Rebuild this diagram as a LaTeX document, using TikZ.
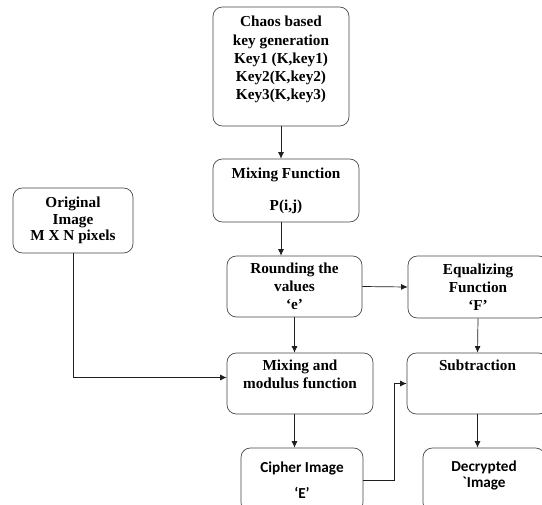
\documentclass[tikz,border=0pt]{standalone}
\usepackage{fontspec}
\setmainfont{Liberation Serif}
\newfontfamily\calfont{Carlito}
\usetikzlibrary{arrows.meta, positioning, calc}
\definecolor{edge}{RGB}{70, 70, 70}
\definecolor{wire}{RGB}{30, 30, 30}

\begin{document}
\begin{tikzpicture}[x=0.03cm, y=-0.03cm,
    box/.style={rectangle, rounded corners=8pt, draw=edge, line width=0.6pt,
                align=center, inner sep=0pt,
                font=\bfseries\fontsize{13}{15.5}\selectfont},
    sbox/.style={box, font=\calfont\bfseries\fontsize{13}{15.5}\selectfont},
    arr/.style={-{Latex[length=5.5pt, width=5pt]}, draw=wire, line width=0.6pt}]

    \clip (0,0) rectangle (542,504);
    \fill[white] (0,0) rectangle (542,504);

    % Key side
    \node[box, minimum width=4.08cm, minimum height=3.57cm] (chaos) at (281, 66.5)
        {Chaos based\\key generation\\Key1 (K,key1)\\Key2(K,key2)\\Key3(K,key3)\\[-1pt]};
    \node[box, minimum width=4.38cm, minimum height=1.89cm] (mixfn) at (286, 190.5)
        {Mixing Function\\[12pt]P(i,j)};

    % Image side
    \node[box, minimum width=3.6cm, minimum height=1.95cm] (orig) at (73, 220.5)
        {Original\\[-1.5pt]Image\\[-1.5pt]M X N pixels};

    % Central
    \node[box, minimum width=4.05cm, minimum height=1.83cm] (round) at (294.5, 286.5)
        {Rounding the\\values\\‘e’};
    \node[box, minimum width=4.38cm, minimum height=1.83cm] (modfn) at (300, 383.5)
        {Mixing and\\modulus function\\ \mbox{}};
    \node[sbox, minimum width=3.66cm, minimum height=1.92cm] (cipher) at (302, 480)
        {Cipher Image\\[7pt]‘E’};

    % Decryption side
    \node[box, minimum width=4.2cm, minimum height=1.86cm] (equal) at (478, 287)
        {Equalizing\\Function\\‘F’};
    \node[box, minimum width=4.23cm, minimum height=1.83cm] (subtr) at (477.5, 383.5)
        {Subtraction\\ \mbox{}\\ \mbox{}};
    \node[sbox, minimum width=3.66cm, minimum height=1.92cm] (decrypt) at (484, 480)
        {Decrypted\\[-1.5pt]`Image\\[-5pt] \mbox{}};

    % Arrows
    \draw[arr] (chaos.south) -- (chaos.south |- mixfn.north);
    \draw[arr] (mixfn.south -| chaos.south) -- (round.north -| chaos.south);
    \draw[arr] (round.east) -- (equal.west);
    \draw[arr] (round.south) -- (round.south |- modfn.north);
    \draw[arr] (modfn.south -| round.south) -- (cipher.north -| round.south);
    \draw[arr] (equal.south) -- (subtr.north);
    \draw[arr] (subtr.south) -- (subtr.south |- decrypt.north);
    \draw[arr] (orig.south) |- ($(modfn.west)+(0,-6)$);
    \coordinate (turn) at (394, 480);
    \draw[arr] (cipher.east) -- (turn) |- (subtr.west);
\end{tikzpicture}
\end{document}
